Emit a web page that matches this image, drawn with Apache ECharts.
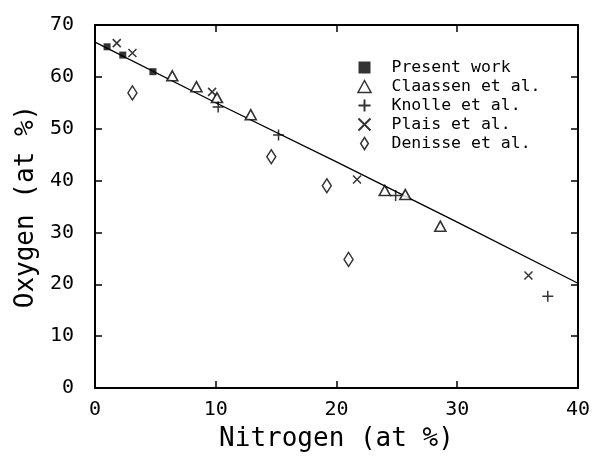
<!DOCTYPE html>
<html><head><meta charset="utf-8">
<script src="https://cdn.jsdelivr.net/npm/echarts@6/dist/echarts.min.js"></script>
<style>html,body{margin:0;padding:0;background:#fff}#c{width:593px;height:457px}</style>
</head><body><div id="c"></div>
<script>
const presentWork = [[1.0,65.8],[2.3,64.2],[4.8,61.0]];
const claassen = [[6.4,60.2],[8.4,58.1],[10.1,56.0],[12.9,52.7],[24.0,38.1],[25.7,37.3],[28.6,31.2]];
const knolle = [[10.2,54.2],[15.2,48.8],[24.9,37.1],[37.5,17.7]];
const plais = [[1.8,66.5],[3.1,64.6],[9.7,57.1],[21.7,40.2],[35.9,21.7]];
const denisse = [[3.1,56.9],[14.6,44.6],[19.2,39.0],[21.0,24.8]];
const fitLine = [[0,66.7],[10,55.0],[20,43.6],[30,32.0],[40,20.2]];
const xTicks = [0,10,20,30,40];
const yTicks = [0,10,20,30,40,50,60,70];

const FONT = 'DejaVu Sans Mono';
const plusPath = 'path://M0,5L10,5M5,0L5,10';
const xPath = 'path://M0,0L10,10M10,0L0,10';
const rectPath = 'path://M0,0L10,0L10,10L0,10Z';
const triPath = 'path://M6,0L12,11L0,11Z';
const diaPath = 'path://M4.5,0L9,7L4.5,14L0,7Z';
const ch = echarts.init(document.getElementById('c'));
function ax(extra){
  return Object.assign({
    axisLine:{show:true,onZero:false,lineStyle:{color:'#000',width:2}},
    axisTick:{show:true,inside:true,length:7,lineStyle:{color:'#000',width:1.5}},
    splitLine:{show:false}
  },extra);
}
ch.setOption({
  animation:false,
  backgroundColor:'#fff',
  grid:{left:95,right:10,top:25,bottom:68,show:false},
  legend:{
    orient:'vertical', left:351, top:54, itemGap:2, itemWidth:44, itemHeight:12,
    symbolKeepAspect:true,
    textStyle:{fontFamily:FONT,fontSize:16.5,color:'#000'},
    data:[
      {name:'Present work',icon:rectPath,itemStyle:{color:'#000',borderWidth:0}},
      {name:'Claassen et al.',icon:triPath,itemStyle:{color:'#fff',borderColor:'#000',borderWidth:1.5}},
      {name:'Knolle et al.',icon:plusPath},
      {name:'Plais et al.',icon:xPath},
      {name:'Denisse et al.',icon:diaPath,itemStyle:{color:'#fff',borderColor:'#000',borderWidth:1.5}}
    ]
  },
  xAxis:[
    ax({type:'value',min:0,max:40,interval:10,position:'bottom',
      name:'Nitrogen (at %)',nameLocation:'middle',nameGap:38,
      nameTextStyle:{fontFamily:FONT,fontSize:26,color:'#000'},
      axisLabel:{fontFamily:FONT,fontSize:20,color:'#000',margin:12,
        formatter:v=>xTicks.includes(v)?String(v):''}}),
    ax({type:'value',min:0,max:40,interval:10,position:'top',axisLabel:{show:false}})
  ],
  yAxis:[
    ax({type:'value',min:0,max:70,interval:10,position:'left',
      name:'Oxygen (at %)',nameLocation:'middle',nameGap:56,
      nameTextStyle:{fontFamily:FONT,fontSize:26,color:'#000'},
      axisLabel:{fontFamily:FONT,fontSize:20,color:'#000',margin:21,
        formatter:v=>yTicks.includes(v)?String(v):''}}),
    ax({type:'value',min:0,max:70,interval:10,position:'right',axisLabel:{show:false}})
  ],
  series:[
    {type:'line',data:fitLine,showSymbol:false,symbol:'none',lineStyle:{color:'#000',width:1.3},silent:true,z:1},
    {name:'Present work',type:'scatter',data:presentWork,symbol:'rect',symbolSize:7,itemStyle:{color:'#000'},z:3},
    {name:'Claassen et al.',type:'scatter',data:claassen,symbol:'triangle',symbolSize:[11,10],
      itemStyle:{color:'#fff',borderColor:'#000',borderWidth:1.6},z:3},
    {name:'Knolle et al.',type:'scatter',data:knolle,symbol:plusPath,symbolSize:11,
      itemStyle:{color:'none',borderColor:'#000',borderWidth:1.5},z:3},
    {name:'Plais et al.',type:'scatter',data:plais,symbol:xPath,symbolSize:8,
      itemStyle:{color:'none',borderColor:'#000',borderWidth:1.5},z:3},
    {name:'Denisse et al.',type:'scatter',data:denisse,symbol:'diamond',symbolSize:[9,14],
      itemStyle:{color:'#fff',borderColor:'#000',borderWidth:1.5},z:3}
  ]
});
</script></body></html>
